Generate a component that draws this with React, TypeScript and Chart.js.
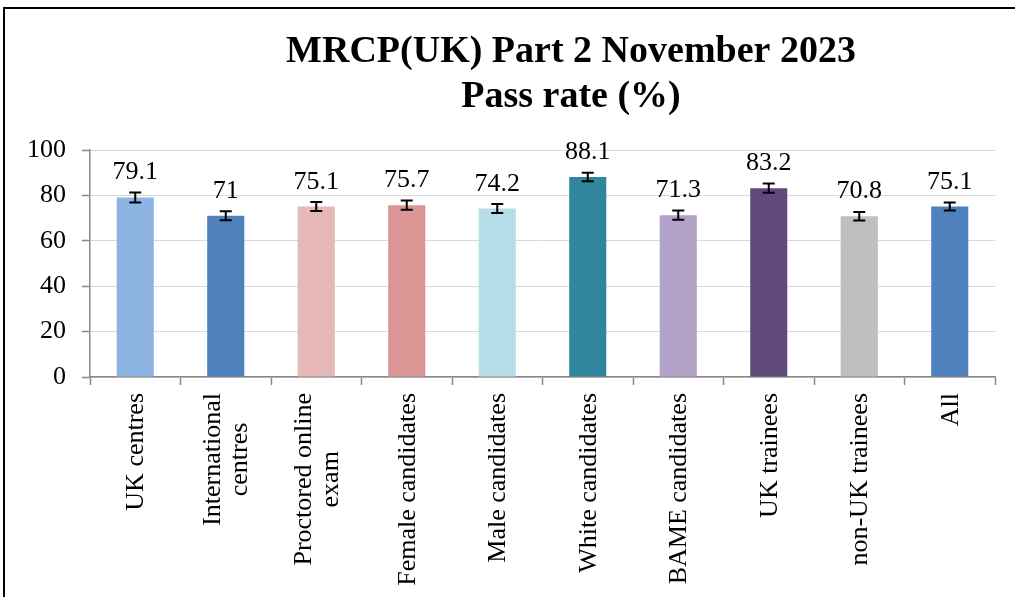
import React, { useEffect, useRef } from "react";
import { Chart, registerables } from "chart.js";

Chart.register(...registerables);

const titleLines = ["MRCP(UK) Part 2 November 2023", "Pass rate (%)"];

const categories: string[][] = [
  ["UK centres"],
  ["International", "centres"],
  ["Proctored online", "exam"],
  ["Female candidates"],
  ["Male candidates"],
  ["White candidates"],
  ["BAME candidates"],
  ["UK trainees"],
  ["non-UK trainees"],
  ["All"],
];

const passRates = [79.1, 71, 75.1, 75.7, 74.2, 88.1, 71.3, 83.2, 70.8, 75.1];

const errorMargins = [2.2, 2.0, 2.0, 2.0, 2.0, 1.9, 2.0, 2.0, 1.9, 1.8];

const barColors = [
  "#8EB4E3",
  "#4F81BD",
  "#E6B9B8",
  "#D99694",
  "#B7DEE8",
  "#31859C",
  "#B3A2C7",
  "#604A7B",
  "#BFBFBF",
  "#4F81BD",
];

const yMin = 0;
const yMax = 100;
const yStep = 20;

const FONT = "'Liberation Serif', 'Times New Roman', serif";
const TEXT_SIZE = 26;

const errorBarPlugin = {
  id: "errorBars",
  afterDatasetsDraw(chart: any) {
    const ctx = chart.ctx;
    const meta = chart.getDatasetMeta(0);
    const yScale = chart.scales.y;
    ctx.save();
    ctx.strokeStyle = "#000";
    ctx.lineWidth = 2;
    meta.data.forEach((bar: any, i: number) => {
      const v = passRates[i];
      const e = errorMargins[i];
      const yTop = yScale.getPixelForValue(v + e);
      const yBot = yScale.getPixelForValue(v - e);
      const x = bar.x;
      const cap = 6;
      ctx.beginPath();
      ctx.moveTo(x, yTop);
      ctx.lineTo(x, yBot);
      ctx.moveTo(x - cap, yTop);
      ctx.lineTo(x + cap, yTop);
      ctx.moveTo(x - cap, yBot);
      ctx.lineTo(x + cap, yBot);
      ctx.stroke();
    });
    // value labels
    ctx.fillStyle = "#000";
    ctx.font = `${TEXT_SIZE}px ${FONT}`;
    ctx.textAlign = "center";
    ctx.textBaseline = "alphabetic";
    meta.data.forEach((bar: any, i: number) => {
      ctx.fillText(String(passRates[i]), bar.x, bar.y - 18);
    });
    ctx.restore();
  },
};

const categoryLabelPlugin = {
  id: "categoryLabels",
  afterDraw(chart: any) {
    const ctx = chart.ctx;
    const xScale = chart.scales.x;
    const top = xScale.top + 16;
    const lineGap = 27;
    ctx.save();
    ctx.fillStyle = "#000";
    ctx.font = `${TEXT_SIZE}px ${FONT}`;
    ctx.textAlign = "center";
    ctx.textBaseline = "middle";
    categories.forEach((lines, i) => {
      const x = xScale.getPixelForTick(i);
      const maxW = Math.max(...lines.map((l) => ctx.measureText(l).width));
      const along = top + maxW / 2;
      lines.forEach((line, j) => {
        const off = (j - (lines.length - 1) / 2) * lineGap;
        ctx.save();
        ctx.translate(x + off + 1, along);
        ctx.rotate(-Math.PI / 2);
        ctx.fillText(line, 0, 0);
        ctx.restore();
      });
    });
    ctx.restore();
  },
};

const titlePlugin = {
  id: "customTitle",
  afterDraw(chart: any) {
    const ctx = chart.ctx;
    ctx.save();
    ctx.fillStyle = "#000";
    ctx.font = `bold 38px ${FONT}`;
    ctx.textAlign = "center";
    ctx.textBaseline = "alphabetic";
    ctx.fillText(titleLines[0], 571, 62);
    ctx.fillText(titleLines[1], 571, 107);
    ctx.restore();
  },
};

export default function App() {
  const canvasRef = useRef<HTMLCanvasElement | null>(null);

  useEffect(() => {
    const canvas = canvasRef.current;
    if (!canvas) return;
    const chart = new Chart(canvas, {
      type: "bar",
      data: {
        labels: categories.map((l) => l.join(" ")),
        datasets: [
          {
            data: passRates,
            backgroundColor: barColors,
            borderWidth: 0,
            barPercentage: 0.41,
            categoryPercentage: 1,
          },
        ],
      },
      options: {
        responsive: false,
        animation: false,
        devicePixelRatio: 1,
        layout: { padding: { top: 150, right: 20, bottom: 0, left: 0 } },
        plugins: {
          legend: { display: false },
          title: { display: false },
          tooltip: { enabled: false },
        },
        scales: {
          x: {
            afterFit(scale: any) {
              scale.height = 220;
            },
            grid: {
              offset: true,
              drawOnChartArea: false,
              drawTicks: true,
              tickLength: 8,
              tickColor: "#888888",
              tickWidth: 1.5,
            },
            border: { color: "#888888", width: 1.5 },
            ticks: {
              display: false,
              autoSkip: false,
            },
          },
          y: {
            min: yMin,
            max: yMax,
            afterFit(scale: any) {
              scale.width = 90;
            },
            grid: {
              color: "#D9D9D9",
              lineWidth: 1,
              tickLength: 8,
              tickColor: "#888888",
              tickWidth: 1.5,
            },
            border: { color: "#888888", width: 1.5 },
            ticks: {
              stepSize: yStep,
              padding: 16,
              color: "#000",
              font: { family: FONT, size: TEXT_SIZE },
            },
          },
        },
      },
      plugins: [errorBarPlugin, categoryLabelPlugin, titlePlugin],
    });
    return () => chart.destroy();
  }, []);

  return (
    <div
      style={{
        position: "fixed",
        left: 0,
        top: 0,
        width: 1015,
        height: 597,
        overflow: "hidden",
        background: "#fff",
      }}
    >
      <div
        style={{
          position: "absolute",
          left: 3,
          top: 7,
          width: 1100,
          height: 700,
          borderLeft: "2px solid #000",
          borderTop: "2px solid #000",
        }}
      />
      <canvas
        ref={canvasRef}
        width={1015}
        height={597}
        style={{ position: "absolute", left: 0, top: 0, width: 1015, height: 597 }}
      />
    </div>
  );
}
